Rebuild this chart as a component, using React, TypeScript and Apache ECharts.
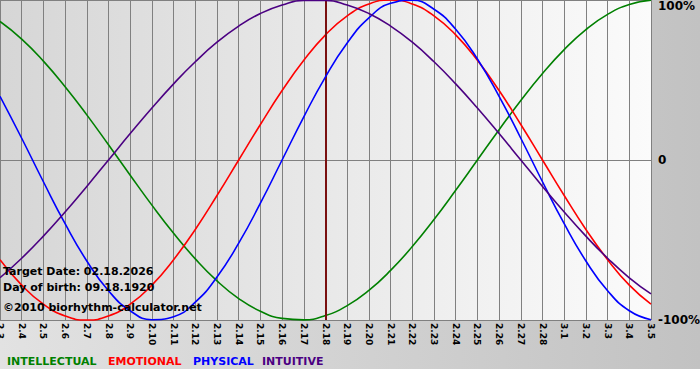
import React, { useEffect, useRef } from "react";
import * as echarts from "echarts";

const days: string[] = [
  "2.3", "2.4", "2.5", "2.6", "2.7", "2.8", "2.9", "2.10", "2.11", "2.12",
  "2.13", "2.14", "2.15", "2.16", "2.17", "2.18", "2.19", "2.20", "2.21", "2.22",
  "2.23", "2.24", "2.25", "2.26", "2.27", "2.28", "3.1", "3.2", "3.3", "3.4", "3.5",
];

const intellectual: number[] = [
  0.866, 0.756, 0.618, 0.458, 0.282, 0.095, -0.095, -0.282, -0.458, -0.618,
  -0.756, -0.866, -0.945, -0.99, -0.999, -0.972, -0.91, -0.815, -0.69, -0.541,
  -0.372, -0.189, 0, 0.189, 0.372, 0.541, 0.69, 0.815, 0.91, 0.972, 0.999,
];

const emotional: number[] = [
  -0.623, -0.782, -0.901, -0.975, -1, -0.975, -0.901, -0.782, -0.623, -0.434,
  -0.222, 0, 0.222, 0.434, 0.623, 0.782, 0.901, 0.975, 1, 0.975,
  0.901, 0.782, 0.623, 0.434, 0.222, 0, -0.222, -0.434, -0.623, -0.782, -0.901,
];

const physical: number[] = [
  0.398, 0.136, -0.136, -0.398, -0.631, -0.817, -0.942, -0.998, -0.979, -0.888,
  -0.731, -0.52, -0.27, 0, 0.27, 0.52, 0.731, 0.888, 0.979, 0.998,
  0.942, 0.817, 0.631, 0.398, 0.136, -0.136, -0.398, -0.631, -0.817, -0.942, -0.998,
];

const intuitive: number[] = [
  -0.736, -0.614, -0.476, -0.325, -0.165, 0, 0.165, 0.325, 0.476, 0.614,
  0.736, 0.837, 0.916, 0.969, 0.997, 0.997, 0.969, 0.916, 0.837, 0.736,
  0.614, 0.476, 0.325, 0.165, 0, -0.165, -0.325, -0.476, -0.614, -0.736, -0.837,
];

const targetDay = "2.18";
const infoLines: string[] = [
  "Target Date: 02.18.2026",
  "Day of birth: 09.18.1920",
  "©2010 biorhythm-calculator.net",
];
const legendNames: string[] = ["INTELLECTUAL", "EMOTIONAL", "PHYSICAL", "INTUITIVE"];
const colors: string[] = ["#008000", "#ff0000", "#0000ff", "#4b0082"];

const FONT = "DejaVu Sans";

export default function App() {
  const ref = useRef<HTMLDivElement>(null);

  useEffect(() => {
    document.body.style.margin = "0";
    document.body.style.background = "#ffffff";
    if (!ref.current) return;
    const chart = echarts.init(ref.current, undefined, { renderer: "svg" });

    const seriesData = [intellectual, emotional, physical, intuitive];
    const legendX = [7, 108, 193, 262];

    chart.setOption({
      animation: false,
      backgroundColor: new echarts.graphic.LinearGradient(0, 0, 1, 0, [
        { offset: 0, color: "#e2e2e2" },
        { offset: 1, color: "#c2c2c2" },
      ]),
      grid: {
        left: 0,
        top: 0,
        width: 651,
        height: 320,
        outerBoundsMode: "none",
        containLabel: false,
        show: true,
        borderWidth: 0,
        backgroundColor: new echarts.graphic.LinearGradient(0, 0, 1, 0, [
          { offset: 0, color: "#d6d6d6" },
          { offset: 1, color: "#fbfbfb" },
        ]),
      },
      xAxis: {
        type: "category",
        data: days,
        boundaryGap: false,
        axisLine: { show: true, lineStyle: { color: "#808080", width: 1 } },
        axisTick: { show: true, length: 5, lineStyle: { color: "#808080" } },
        splitLine: { show: true, lineStyle: { color: "#808080", width: 1 } },
        axisLabel: {
          rotate: -90,
          margin: 3,
          interval: 0,
          color: "#000",
          fontFamily: FONT,
          fontSize: 9,
          fontWeight: "bold",
        },
      },
      yAxis: {
        type: "value",
        position: "right",
        min: -1,
        max: 1,
        interval: 1,
        axisLine: { show: false },
        axisTick: { show: false },
        splitLine: { show: true, lineStyle: { color: "#808080", width: 1 } },
        axisLabel: {
          margin: 7,
          align: "left",
          color: "#000",
          fontFamily: FONT,
          fontSize: 12,
          fontWeight: "bold",
          verticalAlignMaxLabel: "top",
          formatter: (v: number) => (v === 0 ? "0" : `${Math.round(v * 100)}%`),
        },
      },
      series: legendNames.map((name, i) => ({
        name,
        type: "line",
        data: seriesData[i],
        smooth: true,
        showSymbol: false,
        symbol: "none",
        clip: false,
        lineStyle: { color: colors[i], width: 1.6 },
        itemStyle: { color: colors[i] },
        z: 3 + i,
        markLine:
          i === 0
            ? {
                silent: true,
                symbol: "none",
                label: { show: false },
                lineStyle: { color: "#7a1010", width: 2, type: "solid" },
                data: [{ xAxis: targetDay }],
              }
            : undefined,
      })),
      graphic: [
        ...infoLines.map((t, i) => ({
          type: "text",
          x: 3,
          y: [271, 287, 307][i],
          z: 20,
          style: {
            text: t,
            fill: "#000",
            font: `bold 11px "${FONT}"`,
            verticalAlign: "middle",
          },
        })),
        ...legendNames.map((t, i) => ({
          type: "text",
          x: legendX[i],
          y: 361,
          z: 20,
          style: {
            text: t,
            fill: colors[i],
            font: `bold 11px "${FONT}"`,
            verticalAlign: "middle",
          },
        })),
      ],
    });

    return () => chart.dispose();
  }, []);

  return <div ref={ref} style={{ width: 700, height: 369 }} />;
}
